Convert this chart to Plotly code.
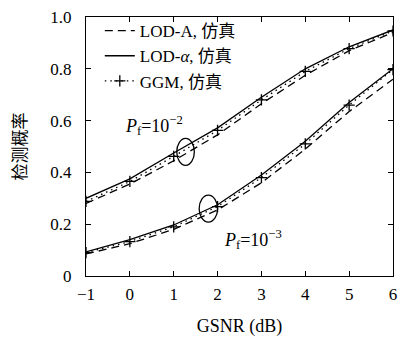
import plotly.graph_objects as go

gsnr = [-1, 0, 1, 2, 3, 4, 5, 6]
# Pf = 1e-2
lodA_2 = [0.280, 0.355, 0.445, 0.545, 0.665, 0.775, 0.870, 0.940]
loda_2 = [0.300, 0.375, 0.475, 0.572, 0.690, 0.800, 0.885, 0.950]
ggm_2 = [0.288, 0.365, 0.462, 0.562, 0.680, 0.790, 0.878, 0.946]
# Pf = 1e-3
lodA_3 = [0.085, 0.125, 0.180, 0.255, 0.360, 0.490, 0.635, 0.760]
loda_3 = [0.093, 0.140, 0.197, 0.275, 0.390, 0.520, 0.670, 0.800]
ggm_3 = [0.090, 0.133, 0.190, 0.268, 0.380, 0.510, 0.660, 0.797]

yticks = [0, 0.2, 0.4, 0.6, 0.8, 1.0]
yticktext = ["0", "0.2", "0.4", "0.6", "0.8", "1.0"]
xticks = [-1, 0, 1, 2, 3, 4, 5, 6]
xticktext = ["\u22121", "0", "1", "2", "3", "4", "5", "6"]

# ellipse annotations: centre x, centre y, half-width, half-height (data units)
ell_cx = [1.27, 1.79]
ell_cy = [0.479, 0.260]
ell_rx = [0.20, 0.21]
ell_ry = [0.052, 0.052]

FONT = "Liberation Serif, DejaVu Serif, Noto Sans CJK SC, serif"

fig = go.Figure()
names = ["LOD-A, 仿真", "LOD-<i>α</i>, 仿真", "GGM, 仿真"]
for i, (s2, s3) in enumerate([(lodA_2, lodA_3), (loda_2, loda_3), (ggm_2, ggm_3)]):
    for j, s in enumerate([s2, s3]):
        if i == 0:
            kw = dict(mode="lines", line=dict(color="black", width=1.3, dash="8px,5px"))
        elif i == 1:
            kw = dict(mode="lines", line=dict(color="black", width=1.3))
        else:
            kw = dict(mode="lines+markers", line=dict(color="black", width=1.3, dash="1.5px,4px"),
                      marker=dict(symbol="cross-thin", size=8, line=dict(color="black", width=1.3)))
        fig.add_trace(go.Scatter(x=gsnr, y=s, name=names[i], showlegend=(j == 0), **kw))

for cx, cy, rx, ry in zip(ell_cx, ell_cy, ell_rx, ell_ry):
    fig.add_shape(type="circle", xref="x", yref="y", x0=cx - rx, x1=cx + rx,
                  y0=cy - ry, y1=cy + ry, line=dict(color="black", width=1.3))

fig.add_annotation(x=0.55, y=0.58, xref="x", yref="y", showarrow=False,
                   text="<i>P</i><sub>f</sub>=10<sup>\u22122</sup>", font=dict(size=18, family=FONT, color="black"))
fig.add_annotation(x=2.8, y=0.14, xref="x", yref="y", showarrow=False,
                   text="<i>P</i><sub>f</sub>=10<sup>\u22123</sup>", font=dict(size=18, family=FONT, color="black"))

axis_common = dict(showgrid=False, zeroline=False, showline=True, linecolor="black", linewidth=1.3,
                   mirror="ticks", ticks="inside", ticklen=5, tickcolor="black", tickwidth=1.2,
                   tickfont=dict(size=17, family=FONT, color="black"))
fig.update_xaxes(range=[-1, 6], tickvals=xticks, ticktext=xticktext, ticklabelstandoff=2,
                 title=dict(text="GSNR (dB)", font=dict(size=18, family=FONT, color="black"), standoff=16),
                 **axis_common)
fig.update_yaxes(range=[0, 1.0], tickvals=yticks, ticktext=yticktext, ticklabelstandoff=10,
                 title=dict(text="检测概率", font=dict(size=17, family="Noto Sans CJK SC", color="black"), standoff=19),
                 **axis_common)

fig.update_layout(
    width=403, height=338, margin=dict(l=86, r=6, t=17, b=60),
    paper_bgcolor="white", plot_bgcolor="white",
    font=dict(family=FONT, color="black"),
    legend=dict(x=0.045, y=1.015, xanchor="left", yanchor="top", bgcolor="rgba(0,0,0,0)",
                font=dict(size=17, family=FONT, color="black"), tracegroupgap=0, itemwidth=30),
)
fig.write_html("out.html")
